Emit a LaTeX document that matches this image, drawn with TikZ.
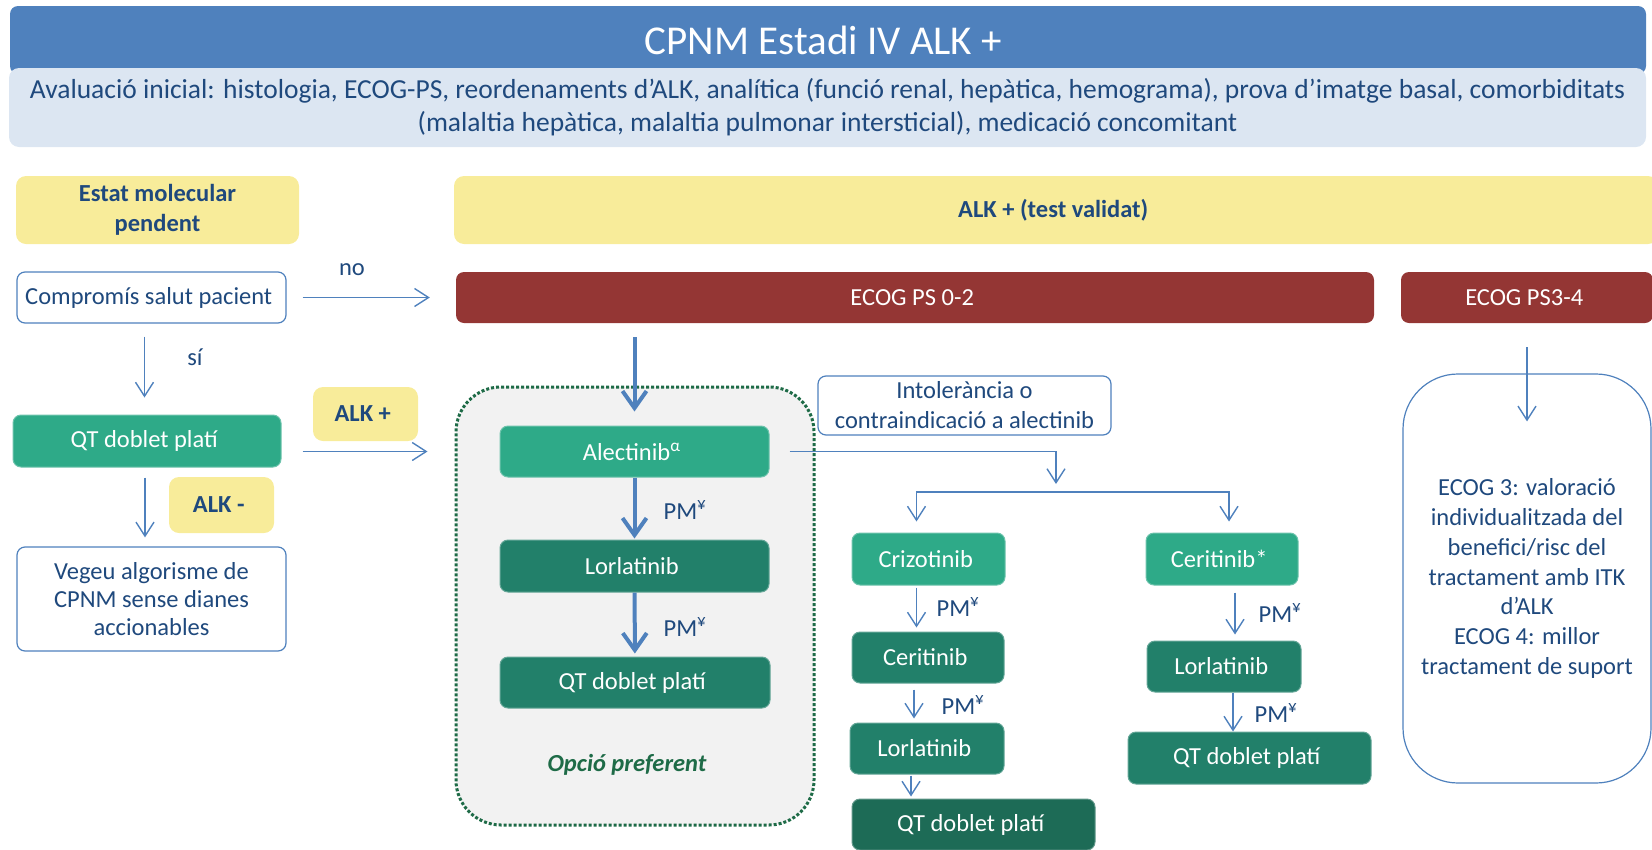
\documentclass[tikz,border=0pt]{standalone}
\usepackage{fontspec}
\setmainfont{Carlito}
\usepackage{color}
\usepackage{tikz}
\usetikzlibrary{arrows.meta}

\definecolor{titleblue}{HTML}{4F81BD}
\definecolor{paleblue}{HTML}{DCE6F2}
\definecolor{navy}{HTML}{1F497D}
\definecolor{paleyellow}{HTML}{F8EC9A}
\definecolor{ecogred}{HTML}{943634}
\definecolor{tealA}{HTML}{2EAA88}
\definecolor{tealB}{HTML}{22806A}
\definecolor{tealC}{HTML}{1D6B56}
\definecolor{prefgreen}{HTML}{1E6B47}
\definecolor{prefgray}{HTML}{F2F2F2}

\newcommand{\bodysize}{\fontsize{24.5}{29}\selectfont}

\begin{document}
\begin{tikzpicture}[x=1pt,y=-1pt,
    >={Straight Barb[length=14pt,width=18pt]},
    boxbase/.style={align=center,inner sep=0pt,rounded corners=8pt,font=\bodysize,text=navy},
    whitebox/.style={boxbase,draw=titleblue,line width=1.2pt,fill=white},
    yellowbox/.style={boxbase,fill=paleyellow,rounded corners=10pt,font=\bodysize\bfseries},
    redbox/.style={boxbase,fill=ecogred,text=white},
    tealbox/.style={boxbase,fill=tealA,draw=tealA!70!white,line width=1pt,text=white},
    darkbox/.style={boxbase,fill=tealB,draw=tealB!70!white,line width=1pt,text=white},
    flow/.style={->,draw=titleblue,line width=1.4pt},
    thickflow/.style={-{Straight Barb[length=17pt,width=24pt]},draw=titleblue,line width=4pt},
    pm/.style={font=\bodysize,text=navy}]

  \useasboundingbox (0,0) rectangle (1652,849);

  \node at (828,40) [boxbase,fill=titleblue,text=white,font=\fontsize{41}{48}\selectfont,minimum width=1636pt,minimum height=68pt] (title) {
    CPNM Estadi IV ALK +
  };

  \node at (827.5,107.5) [boxbase,fill=paleblue,rounded corners=10pt,font=\fontsize{27.5}{33}\selectfont,minimum width=1637pt,minimum height=79pt] (avaluacio) {
    Avaluació inicial: histologia, ECOG-PS, reordenaments d’ALK, analítica (funció renal, hepàtica, hemograma), prova d’imatge basal, comorbiditats\\
    (malaltia hepàtica, malaltia pulmonar intersticial), medicació concomitant
  };

  \node at (157.5,210) [yellowbox,font=\fontsize{24.5}{30}\selectfont\bfseries,minimum width=283pt,minimum height=68pt] (pendent) {
    Estat molecular\\pendent
  };

  \node at (1056,210) [yellowbox,minimum width=1204pt,minimum height=68pt] (validat) {
    ALK + (test validat)
  };

  \node at (151.5,297.5) [whitebox,minimum width=269pt,minimum height=51pt] (compromis) {
    Compromís salut pacient
  };

  \node at (915,297.5) [redbox,minimum width=918pt,minimum height=51pt] (ecog02) {
    ECOG PS 0-2
  };

  \node at (1527,297.5) [redbox,minimum width=252pt,minimum height=51pt] (ecog34) {
    ECOG PS3-4
  };

  \node at (352,270) [pm] (no) {no};
  \node at (195,357) [pm] (si) {sí};

  \node at (147,441) [tealbox,minimum width=268pt,minimum height=52pt] (qtleft) {
    QT doblet platí
  };

  \node at (365.5,414) [yellowbox,minimum width=105pt,minimum height=54pt] (alkpos) {
    ALK +
  };

  \node at (221.5,505) [yellowbox,minimum width=105pt,minimum height=56pt] (alkneg) {
    ALK -
  };

  \node at (151.5,599) [whitebox,font=\fontsize{24.5}{28}\selectfont,minimum width=269pt,minimum height=104pt] (vegeu) {
    Vegeu algorisme de\\CPNM sense dianes\\accionables
  };

  % opcio preferent
  \node at (635,606) [draw=prefgreen,fill=prefgray,dotted,line width=3pt,rounded corners=45pt,minimum width=358pt,minimum height=438pt] (preferent) {};

  \node at (634.5,451.5) [tealbox,minimum width=269pt,minimum height=51pt] (alectinib) {
    Alectinib\textsuperscript{α}
  };

  \node at (634.5,566) [darkbox,minimum width=269pt,minimum height=52pt] (lorlatiniba) {
    Lorlatinib
  };

  \node at (635,682.5) [darkbox,minimum width=270pt,minimum height=51pt] (qta) {
    QT doblet platí
  };

  \node at (685,510) [pm] (pma) {PM\textsuperscript{¥}};
  \node at (685,627) [pm] (pmb) {PM\textsuperscript{¥}};

  \node at (627,765) [font=\bodysize\bfseries\itshape,text=prefgreen] (opcio) {
    Opció preferent
  };

  \node at (964.5,405.5) [whitebox,font=\fontsize{24.5}{30}\selectfont,minimum width=293pt,minimum height=59pt] (intolerancia) {
    Intolerància o\\contraindicació a alectinib
  };

  % segona linia
  \node at (928.5,559) [tealbox,minimum width=153pt,minimum height=52pt] (crizotinib) {
    Crizotinib
  };

  \node at (928,657.5) [darkbox,minimum width=152pt,minimum height=51pt] (ceritinib) {
    Ceritinib
  };

  \node at (927,748.5) [darkbox,minimum width=154pt,minimum height=51pt] (lorlatinibc) {
    Lorlatinib
  };

  \node at (973.5,824.5) [darkbox,fill=tealC,draw=tealC!70!white,minimum width=243pt,minimum height=51pt] (qtc) {
    QT doblet platí
  };

  \node at (1222,559) [tealbox,minimum width=152pt,minimum height=52pt] (ceritinibstar) {
    Ceritinib*
  };

  \node at (1224,666.5) [darkbox,minimum width=154pt,minimum height=51pt] (lorlatinibr) {
    Lorlatinib
  };

  \node at (1249.5,758) [darkbox,minimum width=243pt,minimum height=52pt] (qtr) {
    QT doblet platí
  };

  \node at (958,607) [pm] (pmc) {PM\textsuperscript{¥}};
  \node at (963,705) [pm] (pmd) {PM\textsuperscript{¥}};
  \node at (1280,613) [pm] (pme) {PM\textsuperscript{¥}};
  \node at (1276,713) [pm] (pmf) {PM\textsuperscript{¥}};

  % ECOG 3-4
  \node at (1527,578.5) [whitebox,font=\fontsize{24.5}{29.7}\selectfont,rounded corners=55pt,minimum width=248pt,minimum height=409pt] (itk) {
    ECOG 3: valoració\\individualitzada del\\benefici/risc del\\tractament amb ITK\\d’ALK\\ECOG 4: millor\\tractament de suport
  };

  \coordinate (split) at (1056,492);

  \draw[flow, shorten <=16pt, shorten >=26pt] (compromis) -- (ecog02);
  \draw[flow, shorten <=13pt, shorten >=17pt] ([xshift=-7pt]compromis.south) -- ([xshift=-7pt]compromis.south |- qtleft.north);
  \draw[flow, shorten <=10pt, shorten >=9pt] ([xshift=-2pt]qtleft.south) -- ([xshift=-2pt]qtleft.south |- vegeu.north);
  \draw[flow, shorten <=21pt, shorten >=27pt] (qtleft.east |- alectinib) -- (preferent.west |- alectinib);

  \draw[thickflow, shorten <=14pt, shorten >=14pt] (ecog02.south -| alectinib) -- (alectinib);
  \draw[thickflow, shorten >=1pt] (alectinib) -- (lorlatiniba);
  \draw[thickflow, shorten >=3pt] (lorlatiniba) -- (qta);

  \draw[flow, shorten <=20pt, shorten >=8pt] (alectinib.east) -| (split);
  \draw[flow, shorten >=11pt] (split) -| ([xshift=-12pt]crizotinib.north);
  \draw[flow, shorten >=11pt] (split) -| ([xshift=7pt]ceritinibstar.north);

  \draw[flow, shorten <=2pt, shorten >=4pt] ([xshift=-12pt]crizotinib.south) -- ([xshift=-12pt]crizotinib.south |- ceritinib.north);
  \draw[flow, shorten <=6pt, shorten >=4pt] ([xshift=-14pt]ceritinib.south) -- ([xshift=-14pt]ceritinib.south |- lorlatinibc.north);
  \draw[flow, shorten <=1pt, shorten >=2pt] ([xshift=-16pt]lorlatinibc.south) -- ([xshift=-16pt]lorlatinibc.south |- qtc.north);

  \draw[flow, shorten <=7pt, shorten >=6pt] ([xshift=13pt]ceritinibstar.south) -- ([xshift=13pt]ceritinibstar.south |- lorlatinibr.north);
  \draw[flow] ([xshift=9pt]lorlatinibr.south) -- ([xshift=9pt]lorlatinibr.south |- qtr.north);

  \draw[flow, shorten <=24pt] (ecog34) -- ([yshift=-48pt]itk.north);
\end{tikzpicture}
\end{document}
